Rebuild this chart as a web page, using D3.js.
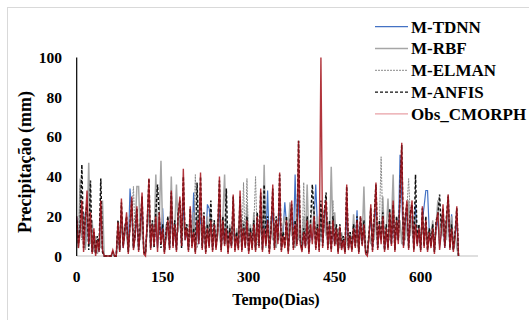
<!DOCTYPE html>
<html>
<head>
<meta charset="utf-8">
<script src="https://cdn.jsdelivr.net/npm/d3@7"></script>
<style>
  html, body { margin: 0; padding: 0; background: #fff; }
  svg text { font-family: "Liberation Serif", "Times New Roman", serif; font-weight: bold; fill: #000; }
</style>
</head>
<body>
<div id="chart"></div>
<script>
// one value every DAY_STEP days, starting at day 0 (rows = 60 days)
const DAY_STEP = 3;

const X_TICKS = [0, 150, 300, 450, 600];
const Y_TICKS = [0, 20, 40, 60, 80, 100];

const SERIES_NAMES = ["M-TDNN", "M-RBF", "M-ELMAN", "M-ANFIS", "Obs_CMORPH"];

const TDNN = [
  20, 6, 18, 10, 22, 4, 20, 5, 16, 2, 10, 1, 8, 2, 24, 3, 0, 0, 0, 0,
  0, 1, 0, 0, 14, 3, 20, 4, 12, 16, 3, 34, 22, 4, 10, 20, 3, 14, 24, 2,
  2, 14, 22, 4, 16, 6, 18, 4, 16, 8, 24, 3, 10, 16, 4, 24, 6, 14, 4, 18,
  20, 5, 28, 8, 12, 4, 18, 6, 32, 8, 14, 6, 20, 5, 18, 4, 26, 24, 16, 4,
  16, 5, 14, 24, 4, 16, 6, 18, 3, 14, 5, 20, 4, 12, 5, 22, 4, 14, 6, 18,
  3, 14, 5, 16, 4, 18, 6, 20, 4, 16, 8, 33, 4, 14, 22, 5, 16, 8, 26, 4,
  12, 27, 16, 4, 14, 20, 6, 41, 8, 30, 8, 4, 12, 5, 16, 3, 14, 8, 18, 36,
  14, 4, 20, 6, 18, 24, 5, 14, 4, 16, 6, 12, 3, 14, 4, 8, 2, 22, 4, 10,
  3, 12, 5, 23, 2, 16, 6, 14, 2, 1, 10, 20, 4, 16, 24, 4, 14, 8, 18, 3,
  12, 4, 18, 6, 22, 4, 16, 8, 51, 30, 5, 16, 22, 6, 18, 20, 4, 26, 6, 14,
  4, 18, 25, 33, 33, 12, 5, 14, 3, 14, 18, 5, 12, 20, 4, 16, 22, 4, 21, 3,
  10, 18, 0
];

const RBF = [
  15, 4, 39, 10, 20, 3, 14, 47, 6, 18, 2, 10, 1, 8, 4, 28, 0, 0, 0, 0,
  0, 1, 0, 0, 14, 2, 20, 6, 16, 10, 3, 18, 24, 5, 14, 35, 35, 8, 18, 3,
  2, 14, 22, 6, 16, 8, 41, 10, 18, 48, 12, 4, 16, 10, 6, 40, 8, 14, 36, 12,
  20, 6, 18, 12, 16, 4, 14, 8, 22, 3, 20, 10, 16, 6, 18, 4, 20, 8, 22, 5,
  14, 6, 18, 10, 5, 20, 41, 8, 4, 16, 6, 20, 4, 14, 8, 24, 4, 18, 6, 26,
  4, 16, 6, 22, 4, 14, 8, 18, 6, 46, 4, 16, 6, 20, 8, 16, 4, 14, 10, 6,
  16, 20, 8, 12, 27, 10, 14, 4, 26, 8, 16, 4, 20, 8, 36, 6, 18, 10, 24, 6,
  20, 4, 18, 8, 24, 10, 16, 6, 45, 10, 22, 6, 14, 4, 12, 6, 3, 10, 5, 12,
  4, 21, 6, 12, 3, 14, 8, 35, 3, 1, 12, 6, 16, 8, 20, 6, 16, 10, 30, 6,
  12, 29, 8, 16, 41, 6, 20, 10, 18, 6, 20, 8, 16, 28, 10, 20, 6, 18, 8, 14,
  6, 20, 8, 16, 6, 14, 10, 18, 4, 16, 28, 6, 20, 10, 18, 8, 31, 10, 20, 6,
  12, 4, 0
];

const ELMAN = [
  16, 5, 36, 8, 22, 4, 28, 6, 16, 2, 12, 1, 8, 3, 26, 4, 0, 0, 0, 0,
  0, 2, 0, 0, 16, 3, 22, 5, 14, 18, 2, 16, 20, 35, 8, 22, 4, 14, 28, 2,
  2, 16, 30, 5, 18, 6, 24, 4, 20, 8, 14, 3, 12, 20, 4, 30, 6, 18, 4, 22,
  24, 5, 34, 8, 14, 3, 22, 6, 14, 41, 4, 8, 30, 4, 20, 2, 16, 6, 20, 3,
  18, 5, 14, 30, 3, 18, 6, 20, 2, 14, 5, 26, 4, 12, 4, 26, 5, 37, 4, 39,
  3, 14, 5, 16, 40, 6, 5, 28, 3, 26, 6, 18, 3, 14, 28, 4, 18, 8, 32, 3,
  12, 5, 18, 3, 16, 24, 4, 16, 6, 40, 8, 4, 37, 6, 18, 3, 16, 26, 20, 4,
  16, 4, 24, 6, 22, 30, 4, 16, 4, 28, 6, 14, 3, 14, 4, 10, 2, 30, 4, 12,
  3, 14, 5, 18, 2, 18, 6, 16, 2, 1, 12, 22, 4, 18, 30, 4, 16, 50, 14, 3,
  14, 4, 22, 6, 24, 4, 18, 8, 28, 48, 5, 18, 24, 39, 20, 24, 4, 20, 6, 14,
  4, 22, 6, 18, 3, 12, 5, 14, 2, 16, 22, 4, 14, 22, 5, 16, 28, 4, 18, 3,
  10, 20, 0
];

const ANFIS = [
  18, 6, 14, 46, 4, 20, 26, 3, 38, 2, 12, 1, 10, 3, 39, 2, 0, 0, 0, 0,
  0, 2, 0, 0, 18, 3, 27, 5, 14, 20, 2, 16, 28, 4, 12, 24, 3, 16, 30, 2,
  1, 16, 39, 4, 18, 4, 22, 36, 20, 4, 16, 2, 12, 20, 4, 32, 5, 18, 3, 22,
  28, 4, 40, 10, 16, 3, 24, 5, 14, 2, 37, 8, 40, 4, 22, 2, 16, 5, 28, 3,
  18, 4, 14, 38, 3, 20, 6, 34, 2, 14, 5, 30, 3, 12, 4, 30, 3, 16, 5, 20,
  2, 14, 4, 18, 3, 22, 5, 32, 3, 36, 6, 20, 2, 14, 34, 4, 20, 8, 41, 3,
  12, 5, 20, 2, 16, 26, 4, 18, 6, 58, 8, 3, 14, 5, 20, 2, 18, 36, 22, 4,
  16, 3, 28, 5, 22, 32, 4, 18, 3, 20, 6, 16, 2, 16, 4, 10, 2, 35, 4, 12,
  3, 16, 5, 20, 2, 20, 6, 18, 2, 1, 12, 24, 3, 20, 36, 4, 18, 8, 22, 3,
  16, 4, 24, 6, 26, 3, 20, 8, 32, 56, 5, 20, 26, 4, 22, 26, 3, 41, 6, 16,
  3, 24, 5, 20, 3, 14, 5, 16, 2, 18, 20, 31, 14, 24, 5, 20, 30, 4, 16, 3,
  12, 24, 0
];

const OBS = [
  20, 4, 12, 28, 2, 18, 33, 6, 22, 1, 14, 0, 8, 2, 28, 3, 0, 0, 0, 0,
  0, 3, 0, 0, 17, 2, 29, 4, 12, 22, 1, 15, 30, 3, 10, 25, 2, 14, 32, 1,
  0, 18, 39, 3, 16, 5, 20, 2, 22, 6, 14, 1, 10, 18, 3, 33, 4, 16, 2, 20,
  30, 5, 44, 8, 14, 2, 25, 4, 12, 1, 18, 6, 42, 3, 20, 1, 14, 4, 18, 2,
  16, 3, 12, 40, 2, 18, 5, 14, 1, 12, 4, 31, 2, 10, 3, 33, 2, 14, 4, 18,
  1, 12, 3, 16, 2, 20, 4, 34, 2, 14, 5, 18, 1, 12, 36, 3, 18, 6, 42, 2,
  10, 4, 18, 1, 14, 28, 3, 16, 5, 58, 6, 2, 12, 4, 18, 1, 16, 6, 20, 3,
  14, 2, 100, 4, 20, 28, 3, 16, 2, 18, 5, 14, 1, 15, 3, 8, 1, 36, 3, 10,
  2, 14, 4, 18, 1, 20, 5, 16, 1, 0, 10, 26, 2, 18, 37, 3, 16, 6, 20, 2,
  14, 3, 22, 5, 28, 2, 18, 6, 30, 57, 4, 18, 28, 3, 20, 28, 2, 16, 5, 14,
  2, 25, 4, 18, 2, 12, 4, 14, 1, 16, 22, 3, 12, 26, 4, 18, 31, 3, 14, 2,
  10, 25, 0
];

const width = 529, height = 320;
const svg = d3.select("#chart").append("svg")
  .attr("width", width).attr("height", height);

// chart area frame
svg.append("rect")
  .attr("x", 7.5).attr("y", 7.5)
  .attr("width", 540).attr("height", 330)
  .attr("fill", "none").attr("stroke", "#d9d9d9");

const x = d3.scaleLinear().domain([0, 700]).range([76.7, 478]);
const y = d3.scaleLinear().domain([0, 100]).range([256, 57.5]);

// tick labels, no tick marks
svg.append("g").selectAll("text")
  .data(Y_TICKS).enter().append("text")
    .attr("x", 62).attr("y", d => y(d) + 5.5)
    .attr("text-anchor", "end")
    .style("font-size", "15.5px")
    .text(d => d);

svg.append("g").selectAll("text")
  .data(X_TICKS).enter().append("text")
    .attr("x", d => x(d)).attr("y", 282)
    .attr("text-anchor", "middle")
    .style("font-size", "15.5px")
    .text(d => d);

// x axis line
svg.append("line")
  .attr("x1", x(0)).attr("x2", x(700))
  .attr("y1", y(0)).attr("y2", y(0))
  .attr("stroke", "#bfbfbf").attr("stroke-width", 1.2);

// series
const styles = [
  { data: TDNN,  color: "#4472c4", w: 1.2, dash: null,  op: 1 },
  { data: RBF,   color: "#a6a6a6", w: 1.5, dash: null,  op: 1 },
  { data: ELMAN, color: "#8a8a8a", w: 1.0, dash: "2,1", op: 1 },
  { data: ANFIS, color: "#111111", w: 1.5, dash: "3,2", op: 1 },
  { data: OBS,   color: "#a3121a", w: 1.4, dash: null,  op: 0.85 }
];

const line = d3.line()
  .x((d, i) => x(i * DAY_STEP))
  .y(d => y(d));

styles.forEach(s => {
  svg.append("path")
    .datum(s.data)
    .attr("fill", "none")
    .attr("stroke", s.color)
    .attr("stroke-width", s.w)
    .attr("stroke-dasharray", s.dash)
    .attr("opacity", s.op)
    .attr("d", line);
});

// y axis line
svg.append("line")
  .attr("x1", x(0)).attr("x2", x(0))
  .attr("y1", y(0)).attr("y2", y(100))
  .attr("stroke", "#000").attr("stroke-width", 1.2);

// axis titles
svg.append("text")
  .attr("x", 276).attr("y", 305)
  .attr("text-anchor", "middle")
  .style("font-size", "16px")
  .text("Tempo(Dias)");

svg.append("text")
  .attr("transform", "translate(31,162) rotate(-90)")
  .attr("text-anchor", "middle")
  .style("font-size", "18px")
  .text("Precipitação (mm)");

// legend
const legendColors = ["#4472c4", "#a6a6a6", "#8a8a8a", "#111111", "#e8a0a6"];
const legend = svg.append("g");
SERIES_NAMES.forEach((name, i) => {
  const cy = 26.7 + i * 21.8;
  legend.append("line")
    .attr("x1", 375).attr("x2", 408)
    .attr("y1", cy).attr("y2", cy)
    .attr("stroke", legendColors[i])
    .attr("stroke-width", Math.min(styles[i].w, 1.3))
    .attr("stroke-dasharray", styles[i].dash);
  legend.append("text")
    .attr("x", 411).attr("y", cy + 5.8)
    .style("font-size", "17px")
    .text(name);
});
</script>
</body>
</html>
